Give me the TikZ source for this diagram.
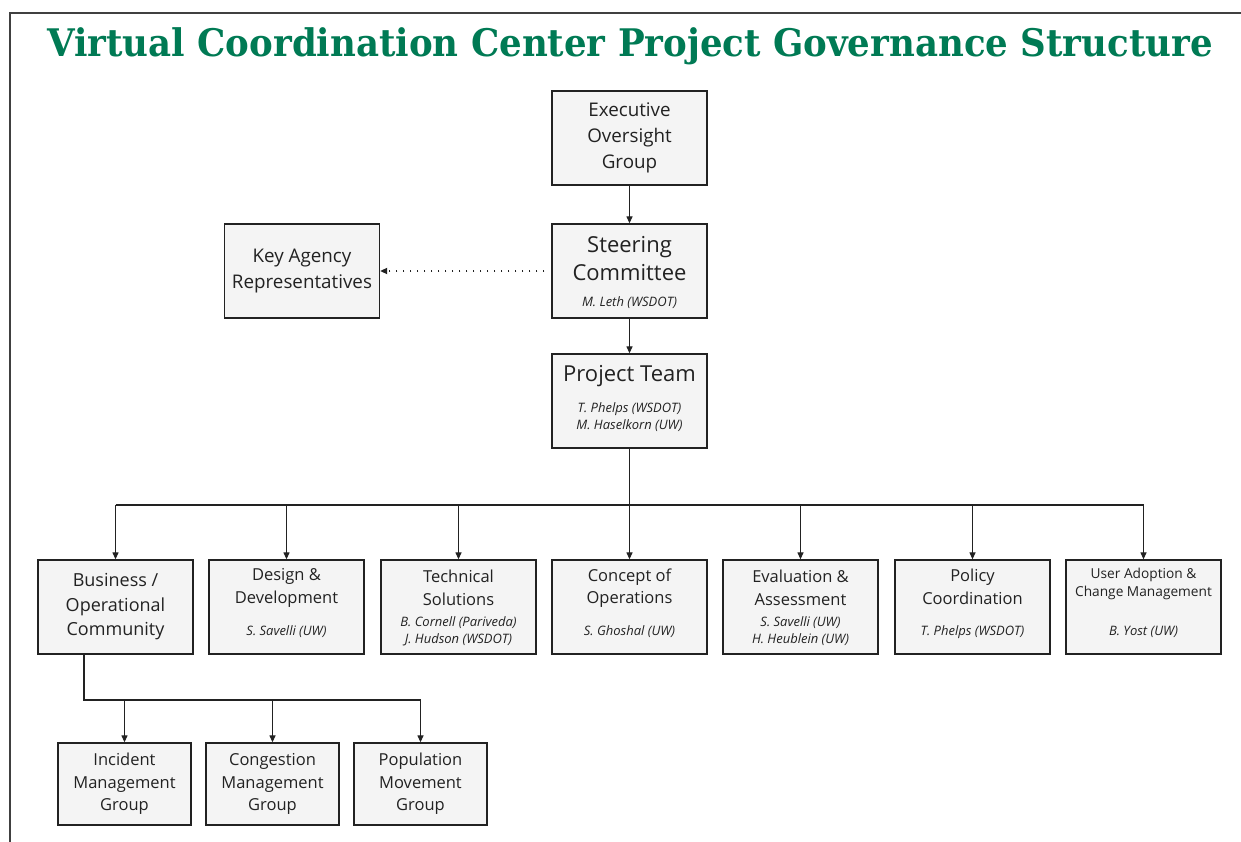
\documentclass[tikz,border=0pt]{standalone}
\usepackage{fontspec}
\setmainfont{Open Sans}
\newfontfamily\titlefont{DejaVu Serif Condensed}
\usetikzlibrary{arrows.meta}
\definecolor{titlegreen}{RGB}{0,122,84}
\definecolor{boxfill}{RGB}{244,244,244}
\definecolor{ink}{RGB}{34,34,34}
\begin{document}
\begin{tikzpicture}[x=1pt,y=-1pt,
  box/.style={draw=ink, line width=1.3pt, fill=boxfill, inner sep=0pt},
  bigbox/.style={box, minimum width=155pt, minimum height=94pt},
  rowbox/.style={box, minimum width=155pt, minimum height=94pt},
  subbox/.style={box, minimum width=133pt, minimum height=82pt},
  maintext/.style={text=ink, align=center, inner sep=0pt, font=\fontsize{18.8}{26}\selectfont},
  bustext/.style={text=ink, align=center, inner sep=0pt, font=\fontsize{18}{24.5}\selectfont},
  largetext/.style={text=ink, align=center, inner sep=0pt, font=\fontsize{22}{28}\selectfont},
  rowtext/.style={text=ink, align=center, inner sep=0pt, font=\fontsize{16.5}{22.5}\selectfont},
  nametext/.style={text=ink, align=center, inner sep=0pt, font=\itshape\fontsize{13}{17}\selectfont},
  link/.style={draw=ink, line width=1.2pt, -{Triangle[length=7pt,width=6pt]}},
  plain/.style={draw=ink, line width=1.2pt}
]
\useasboundingbox (0,0) rectangle (1241,842);

% page frame
\draw[line width=2pt, black!75] (10,842) -- (10,13) -- (1241,13);

% title
\node[text=titlegreen, inner sep=0pt] (title) at (630,46)
  {\scalebox{1.04}[1]{\titlefont\bfseries\fontsize{38}{38}\selectfont Virtual Coordination Center Project Governance Structure}};

% top chain
\node[bigbox] (exec) at (629.5,138) {};
\node[maintext] (exec-t) at (629.5,138) {Executive\\Oversight\\Group};

\node[bigbox] (steer) at (629.5,271) {};
\node[largetext] (steer-t) at (629.5,259) {Steering\\Committee};
\node[nametext] (steer-n) at (629.5,303) {M. Leth (WSDOT)};

\node[bigbox] (key) at (302,271) {};
\node[maintext] (key-t) at (302,271) {Key Agency\\Representatives};

\node[bigbox] (team) at (629.5,401) {};
\node[largetext] (team-t) at (629.5,376) {Project Team};
\node[nametext] (team-n) at (629.5,417) {T. Phelps (WSDOT)\\M. Haselkorn (UW)};

% working groups
\node[rowbox] (bus) at (115.5,607) {};
\node[bustext] (bus-t) at (115.5,607) {Business /\\Operational\\Community};

\node[rowbox] (des) at (286.5,607) {};
\node[rowtext] (des-t) at (286.5,588) {Design \&\\Development};
\node[nametext] (des-n) at (286.5,632) {S. Savelli (UW)};

\node[rowbox] (tech) at (458.5,607) {};
\node[rowtext] (tech-t) at (458.5,588) {Technical\\Solutions};
\node[nametext] (tech-n) at (458.5,631) {B. Cornell (Pariveda)\\J. Hudson (WSDOT)};

\node[rowbox] (conops) at (629.5,607) {};
\node[rowtext] (conops-t) at (629.5,588) {Concept of\\Operations};
\node[nametext] (conops-n) at (629.5,632) {S. Ghoshal (UW)};

\node[rowbox] (eval) at (800.5,607) {};
\node[rowtext] (eval-t) at (800.5,588) {Evaluation \&\\Assessment};
\node[nametext] (eval-n) at (800.5,631) {S. Savelli (UW)\\H. Heublein (UW)};

\node[rowbox] (policy) at (972.5,607) {};
\node[rowtext] (policy-t) at (972.5,587) {Policy\\Coordination};
\node[nametext] (policy-n) at (972.5,632) {T. Phelps (WSDOT)};

\node[rowbox] (user) at (1143.5,607) {};
\node[rowtext, font=\fontsize{13.7}{18}\selectfont] (user-t) at (1143.5,584) {User Adoption \&\\Change Management};
\node[nametext] (user-n) at (1143.5,632) {B. Yost (UW)};

% sub-groups
\node[subbox] (inc) at (124.5,784) {};
\node[rowtext] (inc-t) at (124.5,784) {Incident\\Management\\Group};

\node[subbox] (cong) at (272.5,784) {};
\node[rowtext] (cong-t) at (272.5,784) {Congestion\\Management\\Group};

\node[subbox] (pop) at (420.5,784) {};
\node[rowtext] (pop-t) at (420.5,784) {Population\\Movement\\Group};

% connectors
\draw[link] (exec.south) -- (steer.north);
\draw[link] (steer.south) -- (team.north);
\draw[draw=ink, line width=1.6pt, dash pattern=on 1.6pt off 5.4pt, -{Triangle[length=7pt,width=6pt]}]
  ([xshift=-7pt]steer.west) -- (key.east);

\coordinate (busline) at (629.5,505);
\draw[plain] (team.south) -- (busline);
\draw[plain] (bus.north |- busline) -- (user.north |- busline);
\foreach \n in {bus,des,tech,conops,eval,policy,user}
  \draw[link] (\n.north |- busline) -- (\n.north);

\coordinate (subline) at (84,700);
\draw[plain] (84,654) -- (subline) -- (pop.north |- subline);
\foreach \n in {inc,cong,pop}
  \draw[link] (\n.north |- subline) -- (\n.north);
\end{tikzpicture}
\end{document}
